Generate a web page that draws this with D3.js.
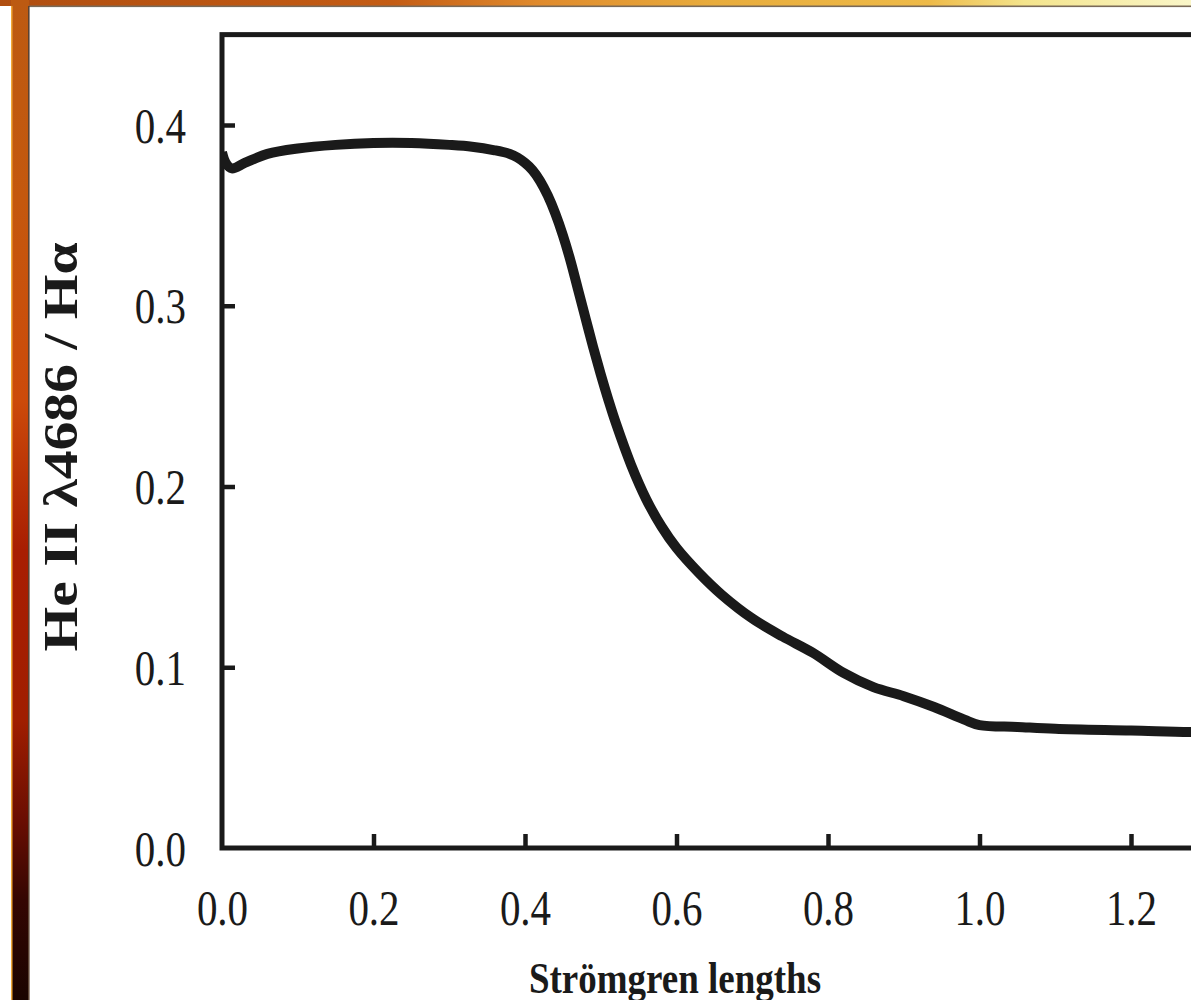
<!DOCTYPE html>
<html>
<head>
<meta charset="utf-8">
<script src="https://cdn.jsdelivr.net/npm/d3@7"></script>
<style>
  html, body { margin: 0; padding: 0; background: #fff; }
  svg { display: block; }
</style>
</head>
<body>
<svg id="chart" width="1191" height="1000"></svg>
<script>
// He II 4686 / H-alpha ratio against distance in Stromgren lengths
const distance = [0, 0.005, 0.013, 0.03, 0.06, 0.1, 0.15, 0.2, 0.25, 0.3, 0.33, 0.36, 0.38, 0.39, 0.40,
    0.41, 0.42, 0.43, 0.44, 0.45, 0.46, 0.47, 0.48, 0.49, 0.50, 0.51, 0.52, 0.54, 0.56, 0.58, 0.60, 0.63, 0.66, 0.70, 0.74,
    0.78, 0.82, 0.86, 0.90, 0.94, 0.98, 1.00, 1.05, 1.10, 1.20, 1.30, 1.40];
const ratio = [0.385, 0.379, 0.376, 0.379, 0.384, 0.387, 0.389, 0.390, 0.390, 0.389, 0.388, 0.386, 0.384, 0.382, 0.379,
    0.375, 0.369, 0.361, 0.351, 0.339, 0.325, 0.309, 0.293, 0.277, 0.262, 0.248, 0.235, 0.212, 0.193, 0.178, 0.166, 0.152, 0.140, 0.127, 0.117,
    0.108, 0.097, 0.089, 0.084, 0.078, 0.071, 0.068, 0.067, 0.066, 0.065, 0.064, 0.064];
const xTicks = [0, 0.2, 0.4, 0.6, 0.8, 1.0, 1.2];
const yTicks = [0, 0.1, 0.2, 0.3, 0.4];

const svg = d3.select("#chart");
const W = 1191, H = 1000;
const ink = "#1a1a1a";
const serif = "'Liberation Serif', 'Times New Roman', serif";

// slide decoration: orange bars on top and left
const defs = svg.append("defs");
const gTop = defs.append("linearGradient").attr("id", "gTop");
[[0, "#b04e10"], [0.33, "#c45c14"], [0.45, "#e08a2c"], [0.6, "#e8ac3c"], [0.78, "#eeba48"], [0.86, "#f4e48c"], [1, "#faf6c8"]]
    .forEach(([o, c]) => gTop.append("stop").attr("offset", o).attr("stop-color", c));
const gLeft = defs.append("linearGradient").attr("id", "gLeft")
    .attr("x1", 0).attr("y1", 0).attr("x2", 0).attr("y2", 1);
[[0, "#bc5a12"], [0.2, "#c4580e"], [0.4, "#cc4a0a"], [0.55, "#a81e02"], [0.72, "#a01e00"], [0.82, "#6a0e02"], [0.9, "#340602"], [1, "#1a0400"]]
    .forEach(([o, c]) => gLeft.append("stop").attr("offset", o).attr("stop-color", c));

svg.append("rect").attr("width", W).attr("height", H).attr("fill", "#fff");
svg.append("rect").attr("x", 0).attr("y", 0).attr("width", W).attr("height", 6).attr("fill", "url(#gTop)");
svg.append("rect").attr("x", 29).attr("y", 5.5).attr("width", W).attr("height", 1.6).attr("fill", "#7a6a58");
svg.append("rect").attr("x", 11).attr("y", 0).attr("width", 18).attr("height", H).attr("fill", "url(#gLeft)");
svg.append("rect").attr("x", 11).attr("y", 6).attr("width", 1.5).attr("height", H).attr("fill", "#f2a838");
svg.append("rect").attr("x", 28).attr("y", 6).attr("width", 1.6).attr("height", H).attr("fill", "#5a4232");

// scales (frame runs past the right edge of the slide)
const x = d3.scaleLinear().domain([0, 1.4]).range([222, 222 + 151.5 * 7]);
const y = d3.scaleLinear().domain([0, 0.45]).range([848, 848 - 1807.5 * 0.45]);

// frame
svg.append("rect")
    .attr("x", x(0)).attr("y", y(0.45))
    .attr("width", x(1.4) - x(0)).attr("height", y(0) - y(0.45))
    .attr("fill", "none").attr("stroke", ink).attr("stroke-width", 5);

// axes with inward ticks
const yAxis = svg.append("g")
    .attr("transform", `translate(${x(0)},0)`)
    .call(d3.axisLeft(y).tickValues(yTicks).tickFormat(d3.format(".1f")).tickSize(-13).tickSizeOuter(0).tickPadding(36));
const xAxis = svg.append("g")
    .attr("transform", `translate(0,${y(0)})`)
    .call(d3.axisBottom(x).tickValues(xTicks).tickFormat(d3.format(".1f")).tickSize(-14).tickSizeOuter(0));

[yAxis, xAxis].forEach(a => {
    a.select(".domain").remove();
    a.selectAll(".tick line").attr("stroke", ink).attr("stroke-width", 4.5);
    a.selectAll(".tick text")
        .attr("fill", ink).attr("font-family", serif).attr("font-size", 41);
});
yAxis.selectAll(".tick").filter(d => d === 0).select("line").remove();
xAxis.selectAll(".tick").filter(d => d === 0).select("line").remove();
yAxis.selectAll(".tick text").attr("x", 0).attr("dy", null)
    .attr("transform", "translate(-36,17) scale(1,1.25)");
xAxis.selectAll(".tick text").attr("y", 0).attr("dy", null)
    .attr("transform", "translate(0,77) scale(1,1.25)");

// curve
const clip = defs.append("clipPath").attr("id", "plotClip");
clip.append("rect").attr("x", x(0)).attr("y", y(0.45)).attr("width", x(1.4) - x(0)).attr("height", y(0) - y(0.45));

const pts = distance.map((d, i) => [d, ratio[i]]);
const line = d3.line()
    .x(d => x(d[0]))
    .y(d => y(d[1]))
    .curve(d3.curveCatmullRom.alpha(0.5));
svg.append("path")
    .datum(pts)
    .attr("clip-path", "url(#plotClip)")
    .attr("fill", "none")
    .attr("stroke", ink)
    .attr("stroke-width", 10)
    .attr("stroke-linejoin", "round")
    .attr("d", line);

// axis titles
svg.append("text")
    .attr("transform", "translate(77,447) rotate(-90) scale(1.2,1)")
    .attr("text-anchor", "middle")
    .attr("font-family", serif).attr("font-weight", "bold").attr("font-size", 48)
    .attr("fill", ink)
    .text("He II λ4686 / Hα");
svg.append("text")
    .attr("transform", "translate(675,993) scale(1,1.22)")
    .attr("text-anchor", "middle")
    .attr("font-family", serif).attr("font-weight", "bold").attr("font-size", 37)
    .attr("fill", ink)
    .text("Strömgren lengths");
</script>
</body>
</html>
